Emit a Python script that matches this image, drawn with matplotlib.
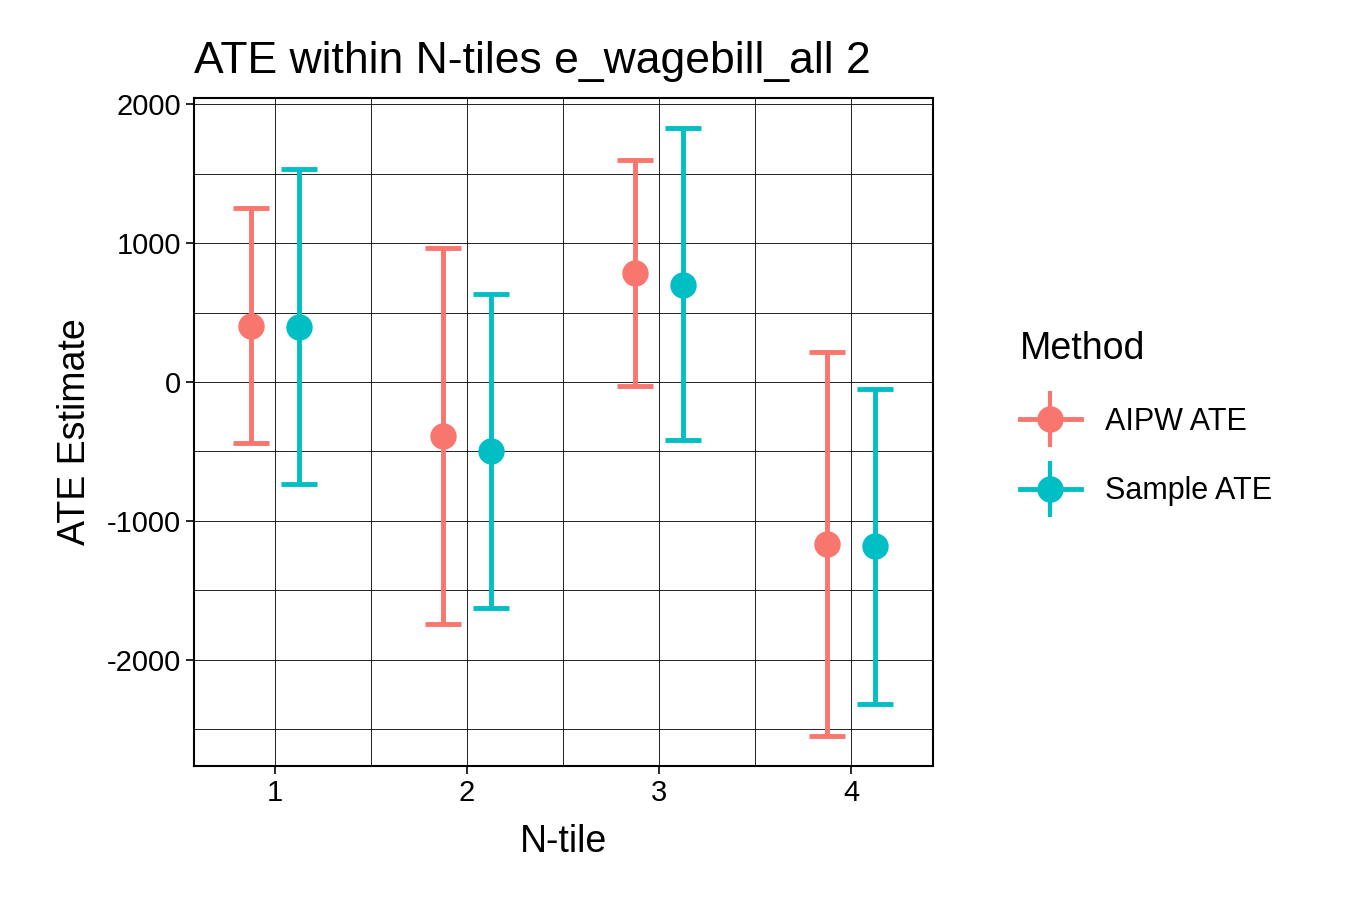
import matplotlib
matplotlib.use("Agg")
import matplotlib.pyplot as plt
from matplotlib.lines import Line2D
import numpy as np

plt.rcParams['font.family'] = ['Liberation Sans', 'DejaVu Sans']

ntiles = [1, 2, 3, 4]
methods = ["AIPW ATE", "Sample ATE"]
colors = ["#F8766D", "#00BFC4"]
aipw_est = [403, -388, 784, -1165]
aipw_lo = [-439, -1741, -29, -2547]
aipw_hi = [1252, 964, 1597, 216]
samp_est = [396, -496, 698, -1180]
samp_lo = [-734, -1626, -417, -2317]
samp_hi = [1532, 633, 1827, -50]

fig = plt.figure(figsize=(13.5, 9), dpi=100)
ax = fig.add_axes([0.1437, 0.149, 0.5474, 0.742])
series = [(aipw_est, aipw_lo, aipw_hi), (samp_est, samp_lo, samp_hi)]
for i, (est, lo, hi) in enumerate(series):
    x = np.array(ntiles) + (-0.125 if i == 0 else 0.125)
    est = np.array(est); lo = np.array(lo); hi = np.array(hi)
    ax.errorbar(x, est, yerr=[est - lo, hi - est], fmt='o', color=colors[i],
                ms=18, elinewidth=3.5, capsize=13, capthick=3.5, zorder=3)

ax.set_xlim(0.578, 4.427)
ax.set_ylim(-2763, 2043)
ax.set_xticks(ntiles)
ax.set_xticks([1.5, 2.5, 3.5], minor=True)
ax.set_yticks([-2000, -1000, 0, 1000, 2000])
ax.set_yticks([-2500, -1500, -500, 500, 1500], minor=True)
ax.set_yticklabels(["-2000", "-1000", "0", "1000", "2000"])
ax.grid(True, which='both', color='black', linewidth=0.6, zorder=0)
ax.set_axisbelow(True)
for s in ax.spines.values():
    s.set_linewidth(1.5); s.set_color('black')
ax.tick_params(which='major', labelsize=21, length=6, width=1.2, colors='black')
ax.tick_params(which='minor', length=0)
ax.set_xlabel("N-tile", fontsize=27, labelpad=12)
ax.set_ylabel("ATE Estimate", fontsize=27, labelpad=10)
ax.set_title("ATE within N-tiles e_wagebill_all 2", fontsize=32, loc='left', x=-0.0, pad=18)

handles = []
for c in colors:
    h1 = Line2D([0], [0], color=c, marker='o', ms=18, lw=3.5)
    h2 = Line2D([0], [0], color=c, marker='|', ms=40, mew=3, lw=0)
    handles.append((h1, h2))
leg = fig.legend(handles, methods, title="Method", loc='center left',
                 bbox_to_anchor=(0.735, 0.535), frameon=False, fontsize=22,
                 title_fontsize=27, handlelength=2.0, labelspacing=1.3)
leg._legend_box.align = "left"
fig.savefig("out.png", dpi=100)
